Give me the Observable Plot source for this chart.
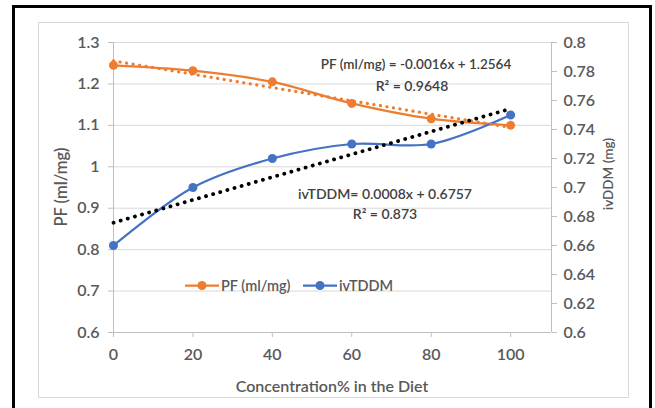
<!DOCTYPE html>
<html><head><meta charset="utf-8">
<script src="https://cdn.jsdelivr.net/npm/d3@7"></script>
<script src="https://cdn.jsdelivr.net/npm/@observablehq/plot@0.6"></script>
<style>
body{margin:0;background:#fff;font-family:Lato,"Open Sans",sans-serif;color:#595959;}
#wrap{position:relative;width:655px;height:408px;overflow:hidden;background:#fff;}
#outer{position:absolute;left:12px;top:5px;width:640px;height:460px;border:3px solid #000;box-sizing:border-box;}
#inner{position:absolute;left:38px;top:22px;width:591px;height:376px;border:1px solid #D9D9D9;box-sizing:border-box;}
#chart{position:absolute;left:0;top:0;}
.t{position:absolute;white-space:nowrap;font-weight:600;}
.eq{color:#404040;font-size:14px;transform:translate(-50%,-50%);}
.ylab{font-size:15px;transform:translate(-50%,-50%) rotate(-90deg);}
.leg{position:absolute;display:flex;align-items:center;font-size:14.5px;font-weight:600;transform:translateY(-50%);}
.leg svg{margin-right:2px;}
</style></head>
<body>
<div id="wrap">
  <div id="outer"></div>
  <div id="inner"></div>
  <div id="chart"></div>
</div>
<script>
const conc = [0, 20, 40, 60, 80, 100];
const pf = [1.245, 1.232, 1.205, 1.153, 1.116, 1.100];
const ivtddm = [0.660, 0.700, 0.720, 0.730, 0.730, 0.750];
const leftTicks = [0.6, 0.7, 0.8, 0.9, 1.0, 1.1, 1.2, 1.3];
const rightTicks = [0.6, 0.62, 0.64, 0.66, 0.68, 0.7, 0.72, 0.74, 0.76, 0.78, 0.8];
const xTicks = [0, 20, 40, 60, 80, 100];
const seriesNames = ["PF (ml/mg)", "ivTDDM"];
const eqTexts = ["PF (ml/mg) = -0.0016x + 1.2564", "R² = 0.9648", "ivTDDM= 0.0008x + 0.6757", "R² = 0.873"];
const axisTitles = {x: "Concentration% in the Diet", left: "PF (ml/mg)", right: "ivDDM (mg)"};

const orange = "#ED7D31", blue = "#4472C4", grid = "#D9D9D9", axisCol = "#BFBFBF", txt = "#595959";

// secondary axis (0.6–0.8) mapped onto primary axis (0.6–1.3)
const toLeft = d3.scaleLinear().domain([0.6, 0.8]).range([0.6, 1.3]);
const pfData = conc.map((x, i) => ({x, y: pf[i]}));
const ivData = conc.map((x, i) => ({x, y: toLeft(ivtddm[i]), v: ivtddm[i]}));
const fmt = d => String(+d.toFixed(2));

const plot = Plot.plot({
  width: 655, height: 408,
  marginLeft: 113, marginRight: 104, marginTop: 42, marginBottom: 76,
  style: {fontFamily: "Lato, 'Open Sans', sans-serif", fontSize: "16px", fontWeight: 600, color: txt, background: "transparent"},
  x: {domain: [0, 110.3], axis: null},
  y: {domain: [0.6, 1.3], axis: null},
  marks: [
    Plot.ruleY(leftTicks, {stroke: grid, strokeWidth: 1}),
    Plot.ruleX([0], {stroke: axisCol}),
    Plot.ruleX([110.3], {stroke: axisCol}),
    Plot.ruleY([0.6], {stroke: axisCol}),
    Plot.axisY(leftTicks, {anchor: "left", tickSize: 5, tickPadding: 9, stroke: axisCol, tickFormat: fmt, fill: txt, fontSize: 16, label: null}),
    Plot.axisY(rightTicks.map(toLeft), {anchor: "right", tickSize: 5, tickPadding: 7, stroke: axisCol, tickFormat: d => fmt(toLeft.invert(d)), fill: txt, fontSize: 16, label: null}),
    Plot.axisX(xTicks, {anchor: "bottom", tickSize: 5, tickPadding: 11, stroke: axisCol, fill: txt, fontSize: 16, label: null}),
    Plot.line(pfData, {x: "x", y: "y", stroke: orange, strokeWidth: 2.25, curve: "catmull-rom"}),
    Plot.line(ivData, {x: "x", y: "y", stroke: blue, strokeWidth: 2.25, curve: "catmull-rom"}),
    Plot.dot(pfData, {x: "x", y: "y", r: 4.5, fill: orange}),
    Plot.dot(ivData, {x: "x", y: "y", r: 4.5, fill: blue}),
    Plot.linearRegressionY(pfData, {x: "x", y: "y", stroke: orange, strokeWidth: 3.2, strokeDasharray: "0.1 6.5", strokeLinecap: "round", ci: 0}),
    Plot.linearRegressionY(ivData, {x: "x", y: "y", stroke: "#000", strokeWidth: 3.8, strokeDasharray: "0.1 7.3", strokeLinecap: "round", ci: 0})
  ]
});
document.getElementById("chart").appendChild(plot);

const wrap = document.getElementById("wrap");
function addText(text, cls, left, top, extra) {
  const d = document.createElement("div");
  d.className = "t " + cls;
  d.textContent = text;
  d.style.left = left + "px"; d.style.top = top + "px";
  if (extra) Object.assign(d.style, extra);
  wrap.appendChild(d);
  return d;
}
addText(eqTexts[0], "eq", 416, 64, {fontSize: "13.5px"});
addText(eqTexts[1], "eq", 412, 85);
addText(eqTexts[2], "eq", 385, 193);
addText(eqTexts[3], "eq", 385, 213);
addText(axisTitles.x, "eq", 332, 385, {fontSize: "16px", color: txt});
addText(axisTitles.left, "ylab", 61, 187, {fontSize: "16.5px"});
addText(axisTitles.right, "ylab", 608, 174, {fontSize: "13.5px"});

function addLegend(name, color, left) {
  const d = document.createElement("div");
  d.className = "leg";
  d.style.left = left + "px"; d.style.top = "285px";
  d.innerHTML = `<svg width="34" height="10"><line x1="0" x2="34" y1="5" y2="5" stroke="${color}" stroke-width="2.25"/><circle cx="17" cy="5" r="4.5" fill="${color}"/></svg><span>${name}</span>`;
  wrap.appendChild(d);
}
addLegend(seriesNames[0], orange, 185);
addLegend(seriesNames[1], blue, 303);
</script>
</body></html>
